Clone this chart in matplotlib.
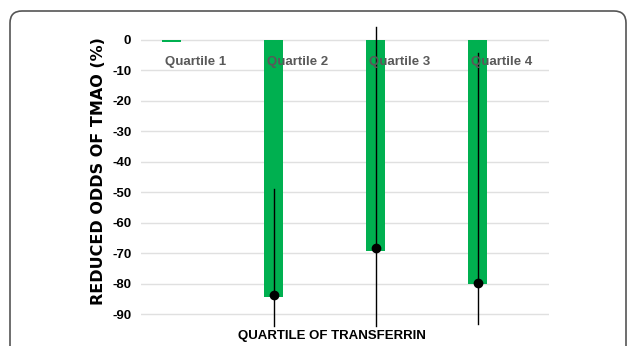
import matplotlib
matplotlib.use("Agg")
import matplotlib.pyplot as plt
import numpy as np
from matplotlib.patches import FancyBboxPatch
from matplotlib.transforms import IdentityTransform

categories = ["Quartile 1", "Quartile 2", "Quartile 3", "Quartile 4"]
values = [-0.7, -84.2, -69.1, -80.0]
points = [np.nan, -83.6, -68.2, -79.6]
err_upper = [np.nan, -49.0, 4.4, -4.4]
err_lower = [np.nan, -93.8, -93.8, -93.3]
yticks = [0, -10, -20, -30, -40, -50, -60, -70, -80, -90]

W, H = 629, 346
fig = plt.figure(figsize=(W / 100, H / 100), dpi=100)

fam = ['Liberation Sans', 'DejaVu Sans']

left, right = 141, 549
ymax, ymin = 5, -95
ppu = 3.048
top_px = 40 - ppu * ymax
bot_px = 40 - ppu * ymin
ax = fig.add_axes([left / W, (H - bot_px) / H, (right - left) / W, (bot_px - top_px) / H])
ax.set_xlim(-0.3, 3.7)
ax.set_ylim(ymin, ymax)

x = np.arange(len(categories))
green = "#00b050"
ax.bar(x, values, width=0.19, color=green, zorder=2)

for xi, lo, hi in zip(x, err_lower, err_upper):
    if not np.isnan(lo):
        ax.plot([xi, xi], [lo, hi], color="black", lw=1.0, zorder=3, clip_on=False)
ax.plot(x, points, linestyle="none", marker="o", markersize=6, color="black", zorder=4)

for xi, lab in zip(x, categories):
    ax.text(xi - 0.095 + 0.035, -7.2, lab, ha="left", va="center", fontsize=9.5,
            fontweight="bold", color="#595959", family=fam, zorder=5)

ax.set_yticks(yticks)
ax.set_yticklabels([str(v) for v in yticks], fontsize=9.5, fontweight="bold", family=fam)
ax.tick_params(axis="y", length=0, pad=7)
ax.set_xticks([])
ax.grid(axis="y", color="#e0e0e0", lw=1, zorder=0)
ax.set_axisbelow(True)
for s in ax.spines.values():
    s.set_visible(False)

fig.text(99 / W, 1 - 171 / H, "REDUCED ODDS OF TMAO (%)", rotation=90, ha="center", va="center",
         fontsize=11.5, fontweight="bold", family=['DejaVu Sans'])
fig.text(332 / W, 1 - 336 / H, "QUARTILE OF TRANSFERRIN", ha="center", va="center",
         fontsize=9.5, fontweight="bold", family=fam)

frame = FancyBboxPatch((10, -40), 616, H - 11 + 40, boxstyle="round,pad=0,rounding_size=12",
                       transform=IdentityTransform(), fill=False, edgecolor="#555555", lw=1.2)
fig.patches.append(frame)

fig.savefig("out.png", dpi=100)
